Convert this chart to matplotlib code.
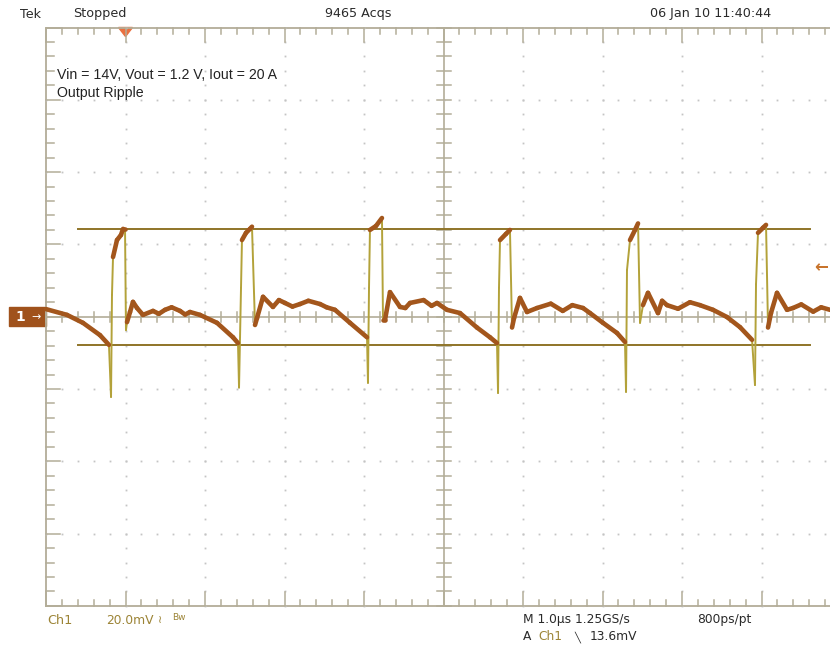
import numpy as np
import matplotlib.pyplot as plt
from matplotlib.collections import LineCollection
from matplotlib.patches import Rectangle, Polygon

# Ch1 trace: time (us) and voltage (mV)
t_us = [0.000, 0.264, 0.465, 0.679, 0.792, 0.818, 0.830, 0.843, 0.893, 0.943,
        0.969, 0.994, 1.006, 1.019, 1.057, 1.094, 1.145, 1.220, 1.346, 1.420,
        1.497, 1.580, 1.686, 1.750, 1.811, 1.937, 2.151, 2.352, 2.415, 2.428,
        2.453, 2.465, 2.516, 2.566, 2.591, 2.629, 2.654, 2.730, 2.855, 2.930,
        3.006, 3.100, 3.195, 3.300, 3.447, 3.530, 3.635, 3.824, 4.038, 4.050,
        4.063, 4.075, 4.151, 4.226, 4.239, 4.264, 4.327, 4.453, 4.520, 4.579,
        4.750, 4.850, 4.918, 5.044, 5.208, 5.421, 5.585, 5.673, 5.686, 5.698,
        5.711, 5.786, 5.836, 5.862, 5.887, 5.962, 6.050, 6.176, 6.350, 6.500,
        6.620, 6.755, 6.843, 7.006, 7.182, 7.283, 7.296, 7.308, 7.346, 7.409,
        7.447, 7.472, 7.509, 7.572, 7.698, 7.750, 7.811, 7.950, 8.100, 8.226,
        8.390, 8.566, 8.730, 8.881, 8.918, 8.931, 8.956, 9.019, 9.057, 9.082,
        9.119, 9.195, 9.321, 9.396, 9.500, 9.650, 9.750, 9.862]
v_mv = [2.1, 0.5, -1.7, -5.1, -7.8, -22.2, 6.0, 16.5, 21.2, 22.6,
        24.3, 24.3, -3.7, -1.5, 1.3, 4.1, 2.4, 0.5, 1.6, 0.8,
        1.9, 2.6, 1.6, 0.6, 1.3, 0.5, -1.7, -5.7, -7.3, -19.6,
        8.0, 21.2, 23.2, 24.3, 24.9, -2.3, -0.4, 5.5, 2.7, 4.6,
        3.8, 2.8, 3.5, 4.4, 3.5, 2.6, 1.9, -1.7, -5.7, -18.3,
        8.0, 24.0, 25.1, 27.3, -0.9, -0.9, 6.8, 2.7, 2.4, 3.8,
        4.6, 3.0, 3.8, 1.9, 1.0, -3.0, -5.7, -7.3, -21.1, 8.0,
        21.2, 22.9, 24.0, -3.0, -0.4, 5.2, 1.3, 2.4, 3.6, 1.6,
        3.2, 2.4, 1.0, -1.7, -4.5, -7.0, -20.8, 12.9, 21.2, 24.0,
        25.8, -1.7, 3.2, 6.6, 1.0, 4.4, 3.2, 2.2, 4.0, 3.2,
        1.9, -0.1, -2.9, -6.4, -18.9, 9.0, 23.2, 24.6, 25.4, -3.0,
        1.0, 6.6, 1.9, 2.4, 3.4, 1.4, 2.6, 1.9]

cursor_hi, cursor_lo = 24.3, -7.8      # mV
cursor_span = [0.40, 9.61]             # us
trig_pos = 1.0                         # us
trig_level = 13.6                      # mV

px_us = 79.5        # pixels per us (1 us/div)
px_mv = 72.3 / 20   # pixels per mV (20 mV/div)

grat = '#b3ad98'
brown = '#a3561c'
olive = '#b3a23a'
cur_c = '#8f7428'

fig = plt.figure(figsize=(8.3, 6.55), dpi=100, facecolor='white')
ax = fig.add_axes([0, 0, 1, 1])
ax.set_xlim(-46 / px_us, 784 / px_us)
ax.set_ylim(-338.3 / px_mv, 316.7 / px_mv)
ax.axis('off')

# graticule frame and centre cross
ax.plot([0, 10, 10, 0, 0], [-80, -80, 80, 80, -80], color=grat, lw=1.3)
ax.plot([0, 10], [0, 0], color=grat, lw=1.2)
ax.plot([5, 5], [-80, 80], color=grat, lw=1.2)

# dotted grid
xs = np.arange(0, 10.01, 0.2)
ys = np.arange(-80, 80.1, 4)
for gx in range(1, 10):
    if gx != 5:
        ax.plot(np.full(len(ys), gx), ys, ls='none', marker='s', ms=1.3,
                color='#c4c4c4', mew=0)
for gy in range(-60, 61, 20):
    if gy != 0:
        ax.plot(xs, np.full(len(xs), gy), ls='none', marker='s', ms=1.3,
                color='#c4c4c4', mew=0)

# edge and centre ticks
for x in xs:
    major = abs(x - round(x)) < 1e-6
    L = (14 if major else 6) / px_mv
    ax.plot([x, x], [80, 80 - L], color=grat, lw=1.1)
    ax.plot([x, x], [-80, -80 + L], color=grat, lw=1.1)
    ax.plot([x, x], [-5 / px_mv, 5 / px_mv], color=grat, lw=1.1)
for y in ys:
    major = abs(y / 20 - round(y / 20)) < 1e-6
    ax.plot([0, (14 if major else 8) / px_us], [y, y], color=grat, lw=1.1)
    ax.plot([5 - 7 / px_us, 5 + 7 / px_us], [y, y], color=grat, lw=1.1)

# cursors
for c in (cursor_hi, cursor_lo):
    ax.plot(cursor_span, [c, c], color=cur_c, lw=1.4)

# trace: steep edges thin and olive, slow parts thick and brown
pts = np.column_stack([t_us, v_mv])
segs = np.stack([pts[:-1], pts[1:]], axis=1)
dt = np.abs(np.diff(t_us)) * px_us
dv = np.abs(np.diff(v_mv)) * px_mv
steep = dv > 6 * dt
ax.add_collection(LineCollection(segs[steep], colors=olive, linewidths=1.4,
                                 capstyle='round'))
ax.add_collection(LineCollection(segs[~steep], colors=brown, linewidths=3.3,
                                 capstyle='round', joinstyle='round'))

# ground marker, trigger markers
ax.add_patch(Rectangle((-37 / px_us, -9 / px_mv), 37 / px_us, 19 / px_mv,
                       color='#a0521c', clip_on=False))
ax.text(-26 / px_us, 0, '1', color='white', fontsize=10, ha='center',
        va='center', fontweight='bold')
ax.text(-10 / px_us, 0, '\u2192', color='white', fontsize=8, ha='center',
        va='center')
ax.add_patch(Polygon([[trig_pos - 7 / px_us, 80], [trig_pos + 7 / px_us, 80],
                      [trig_pos, 80 - 9 / px_mv]], color='#ea7040'))
ax.text(9.75, trig_level, '\u2190', color='#c8742c', fontsize=12,
        ha='center', va='center', fontweight='bold')

# annotation
ax.text(11 / px_us, (316.7 - 75) / px_mv,
        'Vin = 14V, Vout = 1.2 V, Iout = 20 A', fontsize=10.2,
        family='Liberation Sans', va='center', color='#222222')
ax.text(11 / px_us, (316.7 - 93) / px_mv, 'Output Ripple',
        fontsize=10.2, family='Liberation Sans', va='center', color='#222222')

# status text
def ftxt(x, y, s, **kw):
    kw.setdefault('color', '#2a2a2a')
    kw.setdefault('fontsize', 9.2)
    fig.text(x / 830, 1 - y / 655, s, va='center', family='DejaVu Sans', **kw)

ftxt(20, 14, 'Tek')
ftxt(73, 14, 'Stopped')
ftxt(325, 14, '9465 Acqs')
ftxt(650, 14, '06 Jan 10 11:40:44')
ch = '#9c8436'
ftxt(47, 620, 'Ch1', color=ch)
ftxt(106, 620, '20.0mV', color=ch, fontsize=8.8)
ftxt(158, 620, '\u2240', color=ch, fontsize=8)
ftxt(172, 617, 'Bw', color=ch, fontsize=6.5)
ftxt(523, 620, 'M 1.0\u00b5s 1.25GS/s', fontsize=8.8)
ftxt(697, 620, '800ps/pt', fontsize=8.8)
ftxt(523, 637, 'A', fontsize=8.8)
ftxt(538, 637, 'Ch1', color=ch, fontsize=8.8)
ftxt(574, 637, '\u2572', fontsize=7)
ftxt(590, 637, '13.6mV', fontsize=8.8)

fig.savefig('out.png', dpi=100, facecolor='white')
